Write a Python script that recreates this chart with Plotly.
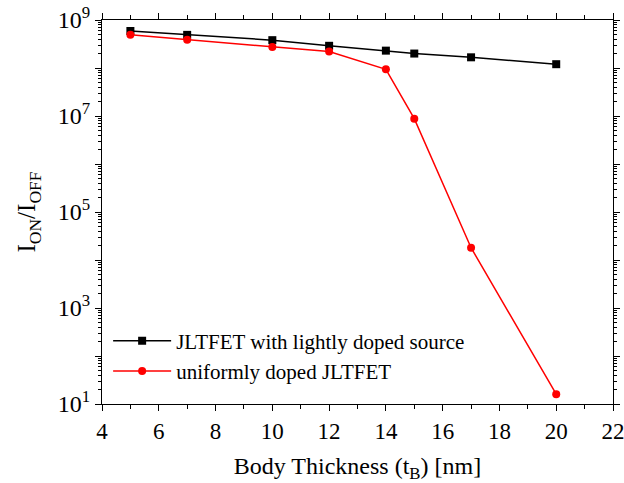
import plotly.graph_objects as go

thickness = [5, 7, 10, 12, 14, 15, 17, 20]
jltfet_ld = [5.9e8, 4.9e8, 3.8e8, 2.9e8, 2.3e8, 2.0e8, 1.67e8, 1.2e8]
uniform = [4.9e8, 3.9e8, 2.75e8, 2.2e8, 9.4e7, 8.8e6, 1.8e4, 1.6e1]

x_ticks = [4, 6, 8, 10, 12, 14, 16, 18, 20, 22]
y_decades = list(range(1, 10))
y_ticktext = ["10<sup>%d</sup>" % d if d % 2 == 1 else "" for d in y_decades]

font_family = "Liberation Serif, Times New Roman, serif"

fig = go.Figure()
fig.add_trace(go.Scatter(
    x=thickness, y=jltfet_ld, mode="lines+markers",
    name="JLTFET with lightly doped source",
    line=dict(color="black", width=1.5),
    marker=dict(symbol="square", size=8, color="black"),
))
fig.add_trace(go.Scatter(
    x=thickness, y=uniform, mode="lines+markers",
    name="uniformly doped JLTFET",
    line=dict(color="#ff0000", width=1.5),
    marker=dict(symbol="circle", size=8, color="#ff0000"),
))

minor_y = [m * 10 ** d for d in range(1, 9) for m in range(2, 10)]

fig.update_layout(
    width=624, height=483,
    margin=dict(l=102, r=11, t=20, b=79),
    paper_bgcolor="white", plot_bgcolor="white",
    font=dict(family=font_family, color="black", size=21),
    showlegend=True,
    legend=dict(x=0.012, y=0.125, xanchor="left", yanchor="middle",
                bgcolor="rgba(0,0,0,0)", font=dict(size=21),
                itemwidth=58, tracegroupgap=0),
    xaxis=dict(
        range=[4, 22], tickvals=x_ticks, ticks="outside", ticklen=6,
        tickwidth=1.2, tickcolor="black", showline=True, linecolor="black",
        linewidth=1.2, mirror="allticks", showgrid=False, zeroline=False,
        tickfont=dict(size=23), automargin=False, ticklabeloverflow="allow",
        minor=dict(dtick=1, tick0=4, ticks="outside", ticklen=4,
                   tickcolor="black", showgrid=False),
        title=dict(text="Body Thickness (t<sub>B</sub>) [nm]",
                   font=dict(size=24), standoff=14),
    ),
    yaxis=dict(
        type="log", range=[1, 9],
        tickvals=[10 ** d for d in y_decades], ticktext=y_ticktext,
        ticks="outside", ticklen=6, tickwidth=1.2, tickcolor="black",
        showline=True, linecolor="black", linewidth=1.2, mirror="allticks",
        showgrid=False, zeroline=False, tickfont=dict(size=24),
        automargin=False, ticklabeloverflow="allow",
        minor=dict(tickvals=minor_y, ticks="outside", ticklen=3,
                   tickcolor="black", showgrid=False),
        title=dict(text="I<sub>ON</sub>/I<sub>OFF</sub>", font=dict(size=25),
                   standoff=14),
    ),
)

fig.write_html(
    "out.html",
    config={"displayModeBar": False},
    post_script="document.body.style.margin='0';document.body.style.overflow='hidden';",
)
